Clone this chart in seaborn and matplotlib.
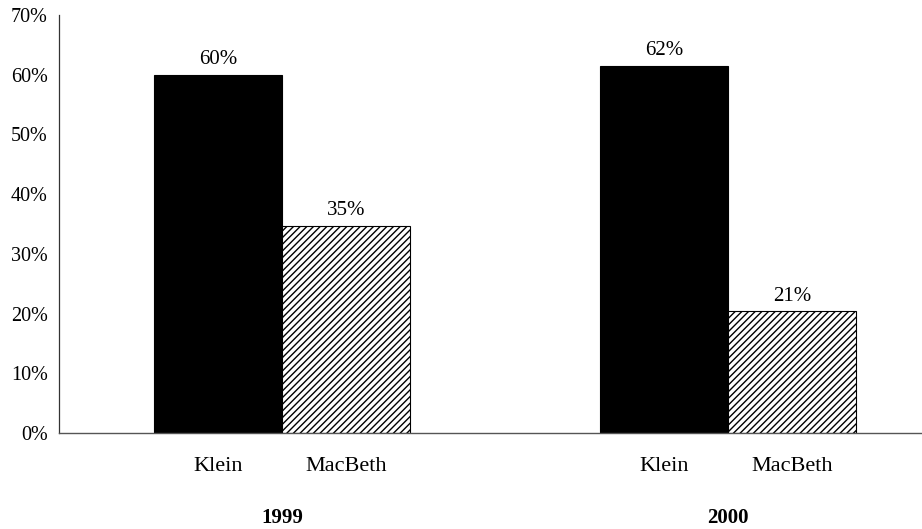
import pandas as pd
import matplotlib
matplotlib.use("Agg")
import matplotlib.pyplot as plt
import seaborn as sns

# data
years = ["1999", "2000"]
series = ["Klein", "MacBeth"]
klein_values = [60.0, 61.5]
macbeth_values = [34.7, 20.4]
klein_labels = ["60%", "62%"]
macbeth_labels = ["35%", "21%"]
yticks = [0, 10, 20, 30, 40, 50, 60, 70]


def main():
    df = pd.DataFrame({
        "year": years * 2,
        "series": [series[0]] * 2 + [series[1]] * 2,
        "value": klein_values + macbeth_values,
    })

    sns.set_style("white")
    plt.rcParams["font.family"] = ["Liberation Serif", "DejaVu Serif"]
    plt.rcParams["text.color"] = "black"
    plt.rcParams["xtick.color"] = "black"
    plt.rcParams["ytick.color"] = "black"
    plt.rcParams["hatch.linewidth"] = 1.0

    fig = plt.figure(figsize=(9.22, 5.29), dpi=100)
    ax = fig.add_axes([0.064, 0.1815, 0.936, 0.790])

    sns.barplot(data=df, x="year", y="value", hue="series",
                palette=["black", "white"], width=0.575,
                edgecolor="black", linewidth=0.8, legend=False, ax=ax)

    # hatch the MacBeth bars
    for bar in ax.containers[1]:
        bar.set_hatch("/////")

    ax.bar_label(ax.containers[0], labels=klein_labels, padding=4, fontsize=15)
    ax.bar_label(ax.containers[1], labels=macbeth_labels, padding=4, fontsize=15)

    ax.set_ylim(0, 70)
    ax.set_xlim(-0.5, 1.435)
    ax.set_yticks(yticks)
    ax.set_yticklabels([f"{t}%" for t in yticks], fontsize=14.5)
    ax.set_xticks([0.5])
    ax.set_xticklabels([""])
    ax.tick_params(axis="y", direction="out", length=5, width=0.8, color="#333333", pad=3)
    ax.tick_params(axis="x", direction="out", length=4, width=0.8, color="#555555")
    ax.set_xlabel("")
    ax.set_ylabel("")

    for side in ["top", "right"]:
        ax.spines[side].set_visible(False)
    ax.spines["left"].set_color("#333333")
    ax.spines["left"].set_linewidth(0.9)
    ax.spines["bottom"].set_color("#555555")
    ax.spines["bottom"].set_linewidth(1.0)

    # series names under each bar, year under each group
    trans = ax.get_xaxis_transform()
    for cont, name in zip(ax.containers, series):
        for bar in cont:
            cx = bar.get_x() + bar.get_width() / 2
            ax.text(cx, -0.081, name, transform=trans, ha="center", va="center",
                    fontsize=16, clip_on=False)
    for i, yr in enumerate(years):
        ax.text(i, -0.203, yr, transform=trans, ha="center", va="center",
                fontsize=15, fontweight="bold", clip_on=False)

    fig.savefig("out.png", dpi=100)
    plt.close(fig)


if __name__ == "__main__":
    main()
